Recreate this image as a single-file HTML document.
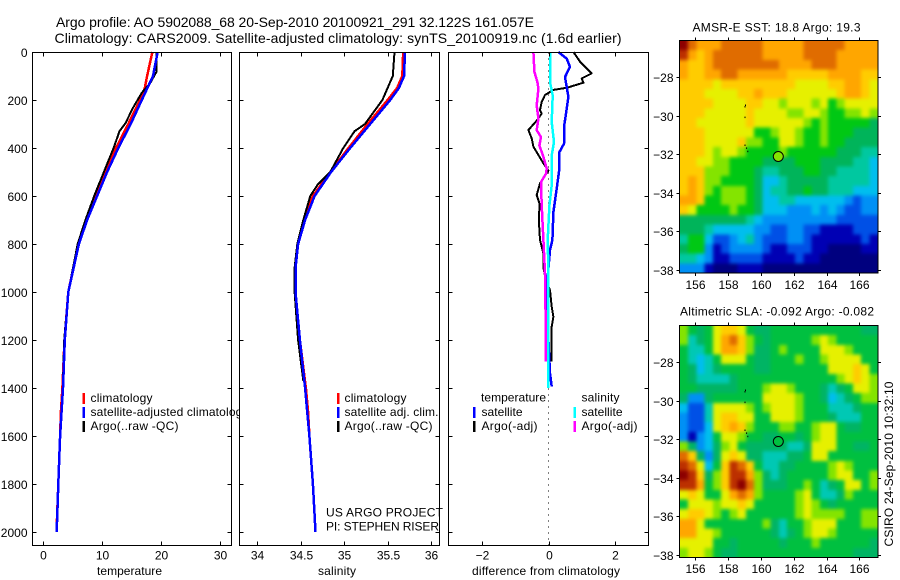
<!DOCTYPE html>
<html lang="en">
<head>
<meta charset="utf-8">
<title>Argo profile</title>
<style>
html,body{margin:0;padding:0;background:#fff;width:900px;height:580px;overflow:hidden}
svg{display:block}
text{font-family:"Liberation Sans",sans-serif;font-size:12px;fill:#000}
.title{font-size:14px}
</style>
</head>
<body>
<svg id="chart" xmlns="http://www.w3.org/2000/svg" width="900" height="580" viewBox="0 0 900 580">
<defs>
<clipPath id="clip-t"><rect x="32" y="52" width="208" height="494"/></clipPath>
<clipPath id="clip-s"><rect x="239" y="52" width="204" height="494"/></clipPath>
<filter id="map-smooth" x="0" y="0" width="1" height="1" color-interpolation-filters="sRGB">
<feGaussianBlur stdDeviation="1.8"/>
<feComponentTransfer><feFuncA type="linear" slope="60"/></feComponentTransfer>
</filter>
</defs>
<rect width="900" height="580" fill="#fff"/>
<g id="marks"></g>
<text class="title" x="56" y="27" textLength="478">Argo profile: AO 5902088_68 20-Sep-2010 20100921_291 32.122S 161.057E</text>
<text class="title" x="54.5" y="43" textLength="567">Climatology: CARS2009. Satellite-adjusted climatology: synTS_20100919.nc (1.6d earlier)</text>
<text x="97" y="575" textLength="65">temperature</text>
<text x="318" y="575" textLength="38">salinity</text>
<text x="472" y="575" textLength="148">difference from climatology</text>
<g clip-path="url(#clip-t)">
<rect x="82.5" y="393" width="2.5" height="11" fill="#f00"/>
<rect x="82.5" y="407" width="2.5" height="11" fill="#00f"/>
<rect x="82.5" y="421" width="2.5" height="11" fill="#000"/>
<text x="90.5" y="402" textLength="62">climatology</text>
<text x="90.5" y="416" textLength="158">satellite-adjusted climatology</text>
<text x="90.5" y="430" textLength="88">Argo(..raw -QC)</text>
</g>
<g clip-path="url(#clip-s)">
<rect x="337" y="393" width="2.5" height="11" fill="#f00"/>
<rect x="337" y="407" width="2.5" height="11" fill="#00f"/>
<rect x="337" y="421" width="2.5" height="11" fill="#000"/>
<text x="344.5" y="402" textLength="62">climatology</text>
<text x="344.5" y="416" textLength="94">satellite adj. clim.</text>
<text x="344.5" y="430" textLength="88">Argo(..raw -QC)</text>
<text x="326" y="516.5" textLength="117">US ARGO PROJECT</text>
<text x="326" y="530.5" textLength="113">PI: STEPHEN RISER</text>
</g>
<g>
<text x="481" y="401.5" textLength="65">temperature</text>
<text x="581.5" y="401.5" textLength="38">salinity</text>
<rect x="473" y="407" width="2.5" height="11" fill="#00f"/>
<rect x="473" y="421" width="2.5" height="11" fill="#000"/>
<rect x="573.5" y="407" width="2.5" height="11" fill="#0ff"/>
<rect x="573.5" y="421" width="2.5" height="11" fill="#f0f"/>
<text x="481.5" y="416" textLength="41">satellite</text>
<text x="481.5" y="430" textLength="56">Argo(-adj)</text>
<text x="581.5" y="416" textLength="41">satellite</text>
<text x="581.5" y="430" textLength="56">Argo(-adj)</text>
</g>
<text x="692.5" y="31.5" textLength="168">AMSR-E SST: 18.8 Argo: 19.3</text>
<text x="680" y="315.5" textLength="194">Altimetric SLA: -0.092 Argo: -0.082</text>
<text transform="translate(893 546.5) rotate(-90)" textLength="165">CSIRO 24-Sep-2010 10:32:10</text>
</svg>
<script>
// ---------- profile data: depth (dbar) and value pairs ----------
const depthTicks = [0,200,400,600,800,1000,1200,1400,1600,1800,2000];
const tempTicks = [0,10,20,30];
const salTicks = [34,34.5,35,35.5,36];
const salTickLabels = ['34','34.5','35','35.5','36'];
const diffTicks = [-2,0,2];
const diffTickLabels = ['\u22122','0','2'];

const tempClimDepth = [0,100,150,200,300,400,500,600,700,800,1000,1200,1400,1500,1600,1800,2000];
const tempClim = [18.6,17.7,17.3,16.5,14.5,12.4,10.7,9.0,7.4,6.0,4.3,3.65,3.3,3.05,2.9,2.6,2.3];
const tempSatDepth = [0,100,200,300,400,500,600,700,800,1000,1200,1400,1600,1800,1950,2000];
const tempSat = [19.5,18.7,16.8,14.9,12.8,10.9,9.2,7.5,6.1,4.3,3.7,3.4,2.9,2.6,2.4,2.3];
const tempArgoDepth = [0,82,130,170,233,297,330,400,478,600,700,800,1000,1200,1370];
const tempArgo = [19.3,19.3,18.2,16.8,15.3,14.0,13.0,12.0,10.7,8.7,7.2,5.9,4.3,3.6,3.4];

const salClimDepth = [0,100,150,200,300,400,500,600,700,800,900,1000,1200,1400,1500,1600,1800,2000];
const salClim = [35.68,35.67,35.61,35.5,35.27,35.05,34.84,34.64,34.54,34.47,34.44,34.44,34.49,34.56,34.585,34.6,34.64,34.67];
const salSatDepth = [0,100,150,200,300,400,500,600,700,800,900,1000,1200,1400,1600,1800,2000];
const salSat = [35.7,35.69,35.63,35.53,35.3,35.07,34.85,34.66,34.55,34.47,34.44,34.44,34.49,34.55,34.6,34.64,34.67];
const salArgoDepth = [0,100,150,200,300,330,400,500,550,600,700,800,900,1000,1200,1370];
const salArgo = [35.58,35.56,35.5,35.44,35.24,35.12,34.99,34.84,34.7,34.61,34.53,34.46,34.43,34.43,34.47,34.53];

const diffTempArgoDepth = [0,40,89,110,128,149,158,179,207,242,256,283,325,360,394,429,464,494,547,596,631,714,783,839,900,950,992,1061,1103,1144,1290];
const diffTempArgo = [0.74,0.94,1.29,0.99,1.04,0.54,0.14,-0.11,-0.21,-0.26,-0.21,-0.34,-0.61,-0.51,-0.46,-0.31,-0.16,-0.01,-0.26,-0.36,-0.28,-0.29,-0.26,-0.16,-0.16,-0.08,0.04,0.09,0.14,0.09,0.09];
const diffTempSatDepth = [0,28,62,104,146,187,257,312,382,417,486,569,667,783,825,950,1061,1200,1339,1394];
const diffTempSat = [0.29,0.54,0.64,0.49,0.54,0.59,0.52,0.46,0.46,0.32,0.32,0.24,0.14,0.11,0.04,-0.04,-0.06,-0.01,0.04,0.09];
const diffSalArgoDepth = [0,83,125,153,222,278,326,354,389,437,486,507,542,640,783,922,1130,1290];
const diffSalArgo = [-0.46,-0.43,-0.34,-0.31,-0.36,-0.31,-0.36,-0.23,-0.28,-0.16,-0.06,-0.08,-0.23,-0.21,-0.16,-0.11,-0.09,-0.08];
const diffSalSatDepth = [0,125,181,292,375,431,556,640,783,922,1339,1401];
const diffSalSat = [0.04,0.04,0.12,0.09,0.16,0.09,0.09,0.02,-0.03,-0.01,-0.01,-0.01];

// ---------- map data: colour-level grids, 0.5 degree cells ----------
const mapLonTicks = [156,158,160,162,164,166];
const mapLatTicks = [28,30,32,34,36,38];
const sstColors = ['#00007f','#0000b4','#0050e6','#0090f5','#00beee','#00c8a0','#00b45a','#00c814','#84e400','#e6f000','#ffcc00','#ffa600','#e06c00','#bc3000','#8c0000'];
const slaColors = ['#00007f','#0000b4','#0050e6','#0090f5','#00beee','#00c8b4','#00b464','#00c040','#84e400','#e6f000','#ffcc00','#ffa600','#e06c00','#bc3000','#8c0000'];
const sstRow00 = [14,12,11,11,11,12,12,12,12,12,11,11,11,11,11,12,12,12,12,12,11,11,11,11];
const sstRow01 = [13,11,10,11,12,12,12,12,12,12,11,11,11,11,11,12,12,12,12,11,11,11,11,11];
const sstRow02 = [11,10,10,11,12,12,12,12,12,12,12,12,11,11,11,11,12,12,12,11,11,11,11,11];
const sstRow03 = [11,10,10,11,11,12,12,11,11,11,11,11,11,10,10,10,10,10,11,11,11,11,10,10];
const sstRow04 = [10,10,10,10,9,10,10,10,10,10,10,10,10,10,9,9,9,9,10,10,11,11,10,9];
const sstRow05 = [10,10,10,9,9,9,9,10,10,11,10,10,10,9,9,9,9,9,9,10,11,11,10,9];
const sstRow06 = [10,10,10,10,9,9,9,9,10,10,9,9,8,9,9,9,8,9,7,8,9,9,9,9];
const sstRow07 = [10,10,10,9,9,9,9,9,10,9,9,9,9,8,8,9,9,8,7,7,8,8,9,8];
const sstRow08 = [10,10,9,9,9,9,9,9,10,9,9,9,9,9,9,8,7,8,7,7,7,7,7,6];
const sstRow09 = [10,10,10,9,9,9,9,9,9,7,7,8,9,9,8,7,7,8,7,7,7,6,6,6];
const sstRow10 = [10,10,10,9,9,9,9,10,8,8,7,7,9,9,8,7,7,8,7,7,6,6,6,6];
const sstRow11 = [10,10,10,9,8,9,9,8,7,7,7,7,8,7,7,7,7,7,7,6,6,6,5,5];
const sstRow12 = [10,10,9,9,8,8,7,7,7,7,6,6,6,6,7,7,7,6,6,6,6,5,5,4];
const sstRow13 = [10,10,10,8,8,8,7,7,7,6,5,5,6,6,6,7,7,6,6,5,5,5,5,4];
const sstRow14 = [10,11,10,8,8,7,7,7,7,6,4,4,5,6,6,6,6,6,5,5,5,5,5,4];
const sstRow15 = [10,11,10,8,7,8,8,8,7,6,4,5,5,6,6,7,6,6,5,5,5,4,4,4];
const sstRow16 = [11,11,10,7,7,8,8,8,7,6,4,4,5,5,4,4,4,4,4,4,3,2,3,3];
const sstRow17 = [10,9,7,7,7,7,8,7,7,6,4,4,4,3,3,3,4,3,4,3,2,2,3,3];
const sstRow18 = [6,6,6,6,6,6,6,6,5,4,3,3,3,3,3,3,3,3,3,2,2,2,2,2];
const sstRow19 = [6,6,6,5,4,4,4,4,4,3,3,2,2,3,3,2,2,1,1,1,1,2,2,2];
const sstRow20 = [5,7,7,4,2,2,3,4,5,3,2,2,2,3,3,2,1,1,1,1,1,1,2,1];
const sstRow21 = [6,7,7,3,1,2,3,3,3,3,2,1,1,2,2,2,1,1,0,0,0,0,1,1];
const sstRow22 = [5,5,4,3,1,1,2,2,2,2,1,1,1,1,2,1,1,0,0,0,0,0,0,0];
const sstRow23 = [3,3,3,1,0,0,0,1,1,1,0,0,0,0,0,0,0,0,0,0,0,0,0,0];
const sstGrid = [sstRow00,sstRow01,sstRow02,sstRow03,sstRow04,sstRow05,sstRow06,sstRow07,sstRow08,sstRow09,sstRow10,sstRow11,sstRow12,sstRow13,sstRow14,sstRow15,sstRow16,sstRow17,sstRow18,sstRow19,sstRow20,sstRow21,sstRow22,sstRow23];
const slaRow00 = [8,7,6,7,9,10,10,9,7,6,6,7,7,7,7,7,7,7,7,7,7,7,6,6];
const slaRow01 = [8,5,6,7,9,11,12,10,8,7,6,7,7,7,7,7,8,9,8,7,7,7,7,7];
const slaRow02 = [7,5,5,7,9,11,11,10,8,6,6,7,8,7,7,7,7,9,9,9,8,7,7,7];
const slaRow03 = [7,5,4,5,7,9,9,9,7,6,6,7,7,7,8,7,7,8,9,9,9,9,7,7];
const slaRow04 = [7,6,4,5,6,7,7,7,7,6,6,7,7,7,7,7,7,7,9,9,9,10,9,7];
const slaRow05 = [7,6,5,5,5,5,6,7,7,7,7,7,7,7,7,7,7,7,7,8,9,10,9,8];
const slaRow06 = [7,7,6,6,6,6,6,7,7,7,8,9,9,8,7,7,7,6,5,6,7,9,9,8];
const slaRow07 = [6,3,3,6,7,7,7,7,7,7,9,9,9,9,8,7,7,6,4,5,6,7,8,8];
const slaRow08 = [4,2,2,5,9,9,9,9,8,7,8,9,9,9,8,7,7,7,5,5,5,6,7,7];
const slaRow09 = [3,2,2,5,9,10,10,9,9,7,7,9,9,9,8,7,7,7,6,5,5,5,7,7];
const slaRow10 = [3,2,2,4,9,10,11,10,8,7,7,7,8,8,7,7,8,9,9,7,6,6,7,7];
const slaRow11 = [3,1,3,4,7,9,9,8,7,7,6,6,7,7,6,7,8,9,9,7,7,7,7,7];
const slaRow12 = [8,6,3,4,6,8,9,7,6,6,6,6,6,5,5,6,9,9,9,7,7,6,6,7];
const slaRow13 = [12,10,6,3,6,9,10,9,6,6,5,5,5,6,6,7,9,9,7,7,7,7,7,7];
const slaRow14 = [13,12,9,4,7,10,13,12,10,7,5,5,6,6,7,7,7,7,8,9,8,7,7,7];
const slaRow15 = [14,13,10,6,8,10,13,13,11,8,6,5,6,7,7,7,7,7,8,9,9,7,7,8];
const slaRow16 = [13,13,11,7,8,10,13,14,12,8,6,6,6,7,7,8,7,5,6,7,9,9,7,8];
const slaRow17 = [9,10,9,7,7,9,11,12,11,8,7,7,7,7,8,9,7,5,5,6,8,7,7,7];
const slaRow18 = [7,9,9,9,8,9,9,10,9,7,7,7,7,7,8,9,8,7,6,7,7,7,7,7];
const slaRow19 = [9,10,10,9,8,7,8,9,7,7,7,7,7,7,8,9,8,8,8,8,7,7,8,8];
const slaRow20 = [11,11,9,7,7,7,7,7,7,7,8,6,5,7,7,8,9,9,9,7,7,7,8,8];
const slaRow21 = [11,11,9,9,8,7,7,7,7,7,7,6,5,6,7,8,9,9,8,7,7,7,7,7];
const slaRow22 = [9,9,9,9,7,7,6,7,7,7,7,7,6,7,7,7,8,7,7,7,7,7,7,6];
const slaRow23 = [8,9,9,8,7,6,6,7,7,7,7,7,7,7,7,7,7,7,7,7,7,6,6,6];
const slaGrid = [slaRow00,slaRow01,slaRow02,slaRow03,slaRow04,slaRow05,slaRow06,slaRow07,slaRow08,slaRow09,slaRow10,slaRow11,slaRow12,slaRow13,slaRow14,slaRow15,slaRow16,slaRow17,slaRow18,slaRow19,slaRow20,slaRow21,slaRow22,slaRow23];
const floatLon = [161.06];
const floatLat = [32.12];
const islandLon = [159.0,159.03,159.0,159.0,159.1,159.17];
const islandLat = [29.5,29.42,30.05,31.5,31.65,31.82];

// ---------- drawing ----------
const SVGNS = 'http://www.w3.org/2000/svg';
const root = document.getElementById('marks');

function make(tag, name, parent) {
  const el = document.createElementNS(SVGNS, tag);
  
  
  (parent || root).appendChild(el);
  return el;
}
function seg(x1, y1, x2, y2, name, parent) {
  const el = make('line', name, parent);
  el.setAttribute('x1', x1);
  el.setAttribute('y1', y1);
  el.setAttribute('x2', x2);
  el.setAttribute('y2', y2);
  el.setAttribute('stroke', '#000');
  el.setAttribute('stroke-width', 1);
  el.setAttribute('shape-rendering', 'crispEdges');
  return el;
}
function label(x, y, str, anchor, name, parent) {
  const el = make('text', name, parent);
  el.setAttribute('x', x);
  el.setAttribute('y', y);
  el.setAttribute('text-anchor', anchor);
  el.textContent = str;
  return el;
}
function linear(d0, d1, r0, r1) {
  return v => r0 + (v - d0) * (r1 - r0) / (d1 - d0);
}

const yDepth = linear(0, 2000, 52, 532);
const PANEL_TOP = 52.5, PANEL_BOTTOM = 545.5;

function drawPanel(id, left, right, xScale, xTicks, xLabels, withDepthLabels) {
  const g = make('g', id + '-panel');
  const frame = make('rect', id + '-plot-frame', g);
  frame.setAttribute('x', left);
  frame.setAttribute('y', PANEL_TOP);
  frame.setAttribute('width', right - left);
  frame.setAttribute('height', PANEL_BOTTOM - PANEL_TOP);
  frame.setAttribute('fill', 'none');
  frame.setAttribute('stroke', '#000');
  frame.setAttribute('shape-rendering', 'crispEdges');
  xTicks.forEach((t, i) => {
    const x = Math.round(xScale(t)) + 0.5;
    seg(x, PANEL_TOP, x, PANEL_TOP + 4, id + '-x-tick-top', g);
    seg(x, PANEL_BOTTOM, x, PANEL_BOTTOM - 4, id + '-x-tick-bottom', g);
    label(x, 559.5, xLabels[i], 'middle', id + '-x-tick-label', g);
  });
  depthTicks.forEach(d => {
    const y = Math.round(yDepth(d)) + 0.5;
    seg(left, y, left + 4, y, id + '-y-tick-left', g);
    seg(right, y, right - 4, y, id + '-y-tick-right', g);
    if (withDepthLabels) {
      label(27.5, y + 4.5, String(d), 'end', 'depth-tick-label', g);
    }
  });
}
function drawSeries(name, xScale, depths, values, color, width) {
  const el = make('polyline', name);
  el.setAttribute('points', depths.map((d, i) => xScale(values[i]).toFixed(1) + ',' + yDepth(d).toFixed(1)).join(' '));
  el.setAttribute('fill', 'none');
  el.setAttribute('stroke', color);
  el.setAttribute('stroke-width', width);
  el.setAttribute('stroke-linejoin', 'round');
  el.setAttribute('shape-rendering', 'crispEdges');
}

const xTemp = linear(0, 30, 43, 219.5);
const xSal = linear(34, 36, 257.3, 431);
const xDiff = linear(-2, 2, 482, 615.4);

drawSeries('temperature-climatology-line', xTemp, tempClimDepth, tempClim, '#f00', 2.5);
drawSeries('temperature-argo-line', xTemp, tempArgoDepth, tempArgo, '#000', 2);
drawSeries('temperature-satellite-line', xTemp, tempSatDepth, tempSat, '#00f', 2.5);
drawSeries('salinity-climatology-line', xSal, salClimDepth, salClim, '#f00', 2.5);
drawSeries('salinity-argo-line', xSal, salArgoDepth, salArgo, '#000', 2);
drawSeries('salinity-satellite-line', xSal, salSatDepth, salSat, '#00f', 2.5);

const zeroLine = seg(xDiff(0), PANEL_TOP, xDiff(0), PANEL_BOTTOM, 'zero-difference-line');
zeroLine.setAttribute('stroke-dasharray', '1 5');

drawSeries('difference-temperature-argo-line', xDiff, diffTempArgoDepth, diffTempArgo, '#000', 2);
drawSeries('difference-temperature-satellite-line', xDiff, diffTempSatDepth, diffTempSat, '#00f', 2.5);
drawSeries('difference-salinity-argo-line', xDiff, diffSalArgoDepth, diffSalArgo, '#f0f', 2.5);
drawSeries('difference-salinity-satellite-line', xDiff, diffSalSatDepth, diffSalSat, '#0ff', 2.5);

drawPanel('temperature', 32.5, 231.5, xTemp, tempTicks, tempTicks.map(String), true);
drawPanel('salinity', 239.5, 439.5, xSal, salTicks, salTickLabels, false);
drawPanel('difference', 448.5, 648.5, xDiff, diffTicks, diffTickLabels, false);

function drawMap(id, top, bottom, grid, palette, circleFill, labelBaseline) {
  const left = 680, right = 877.5;
  const g = make('g', id + '-map');
  const xLon = linear(156, 166, 695.3, 859.3);
  const yLat = linear(28, 38, top + 36.6, top + 229.3);
  const rows = grid.length;
  const cols = grid[0].length;
  const cw = (right - left) / cols;
  const ch = (bottom - top) / rows;
  const cells = make('g', id + '-heatmap', g);
  cells.setAttribute('filter', 'url(#map-smooth)');
  grid.forEach((row, r) => {
    row.forEach((v, c) => {
      const cell = make('rect', id + '-cell', cells);
      cell.setAttribute('x', (left + c * cw).toFixed(2));
      cell.setAttribute('y', (top + r * ch).toFixed(2));
      cell.setAttribute('width', (cw + 0.4).toFixed(2));
      cell.setAttribute('height', (ch + 0.4).toFixed(2));
      const level = Math.max(0, Math.min(palette.length - 1, Math.round(v)));
      cell.setAttribute('fill', palette[level]);
      cell.setAttribute('shape-rendering', 'crispEdges');
    });
  });
  islandLon.forEach((lon, i) => {
    const isl = make('rect', id + '-island', g);
    isl.setAttribute('x', xLon(lon).toFixed(1));
    isl.setAttribute('y', yLat(islandLat[i]).toFixed(1));
    isl.setAttribute('width', 1);
    isl.setAttribute('height', 1.5);
    isl.setAttribute('fill', '#000');
  });
  const marker = make('circle', id + '-float-position', g);
  marker.setAttribute('cx', xLon(floatLon[0]).toFixed(1));
  marker.setAttribute('cy', yLat(floatLat[0]).toFixed(1));
  marker.setAttribute('r', 5);
  marker.setAttribute('fill', circleFill);
  marker.setAttribute('stroke', '#000');
  const frame = make('rect', id + '-map-frame', g);
  frame.setAttribute('x', left - 0.5);
  frame.setAttribute('y', top);
  frame.setAttribute('width', right - left + 1);
  frame.setAttribute('height', bottom - top);
  frame.setAttribute('fill', 'none');
  frame.setAttribute('stroke', '#000');
  frame.setAttribute('shape-rendering', 'crispEdges');
  mapLonTicks.forEach(lon => {
    const x = Math.round(xLon(lon)) + 0.5;
    seg(x, top, x, top - 3, id + '-lon-tick-top', g);
    seg(x, bottom, x, bottom + 3, id + '-lon-tick-bottom', g);
    label(x, labelBaseline, String(lon), 'middle', id + '-lon-tick-label', g);
  });
  mapLatTicks.forEach(lat => {
    const y = Math.round(yLat(lat)) + 0.5;
    seg(left - 0.5, y, left - 3.5, y, id + '-lat-tick-left', g);
    seg(right + 0.5, y, right + 3.5, y, id + '-lat-tick-right', g);
    label(673.5, y + 4.5, '\u2212' + lat, 'end', id + '-lat-tick-label', g);
  });
}
drawMap('sst', 40.5, 273, sstGrid, sstColors, '#84e400', 289);
drawMap('sla', 325.5, 557.5, slaGrid, slaColors, '#00c040', 573);
</script>
</body>
</html>
